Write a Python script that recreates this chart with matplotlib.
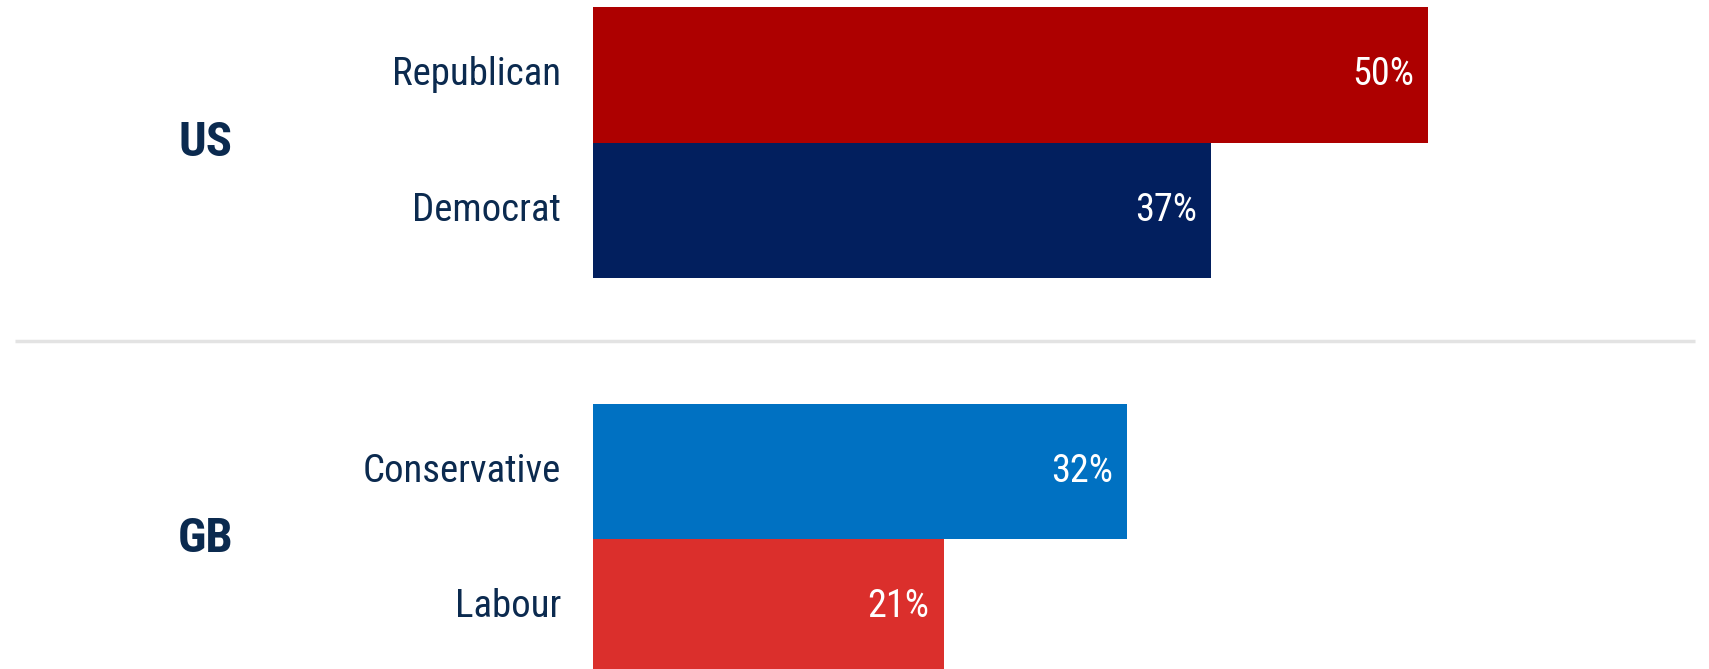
import matplotlib
matplotlib.use("Agg")
import matplotlib.pyplot as plt
import matplotlib.transforms as mtransforms

# =========================
# データ
# =========================
groups = ["US", "GB"]
parties = ["Republican", "Democrat", "Conservative", "Labour"]
party_group = ["US", "US", "GB", "GB"]
shares = [50, 37, 32, 21]
bar_colors = ["#AD0000", "#021F5E", "#0071C2", "#DB2F2C"]

# bar rows (bar height = 1, gap between the two groups)
y_pos = [0, 1, 2.926, 3.926]

NAVY = "#0B2A4F"
NARROW = ["Roboto Condensed", "Liberation Sans Narrow", "DejaVu Sans"]

# =========================
# 描画
# =========================
fig = plt.figure(figsize=(17.09, 6.69), dpi=100)
ax = fig.add_axes([0, 0, 1, 1])

ax.barh(y_pos, shares, height=1.0, color=bar_colors, left=0)

# x: 0 at 593px, 16.7px per percent ; y: inverted, rows in bar units
ax.set_xlim(-593 / 16.7, (1709 - 593) / 16.7)
ax.set_ylim(4.385, -0.552)
ax.axis("off")

# value labels inside bars
for y, v in zip(y_pos, shares):
    ax.annotate(f"{v}%", xy=(v, y), xytext=(-14, 0), textcoords="offset pixels",
                ha="right", va="center", color="white", fontsize=27.5,
                family=NARROW)

# party labels left of bars
for y, p in zip(y_pos, parties):
    ax.annotate(p, xy=(0, y), xytext=(-32, 0), textcoords="offset pixels",
                ha="right", va="center", color=NAVY, fontsize=28,
                family=NARROW)

# group labels
blend = mtransforms.blended_transform_factory(ax.transAxes, ax.transData)
for g in groups:
    ys = [y for y, pg in zip(y_pos, party_group) if pg == g]
    yc = sum(ys) / len(ys)
    ax.text(0.12, yc, g, transform=blend, ha="center", va="center",
            fontsize=35, fontweight="bold", color=NAVY, family=NARROW)

# separator between groups
sep_y = (y_pos[1] + y_pos[2]) / 2
ax.plot([0.0088, 0.992], [sep_y, sep_y], transform=blend, color="#E3E3E3",
        lw=2.5, clip_on=False, solid_capstyle="butt")

fig.savefig("out.png", dpi=100)
